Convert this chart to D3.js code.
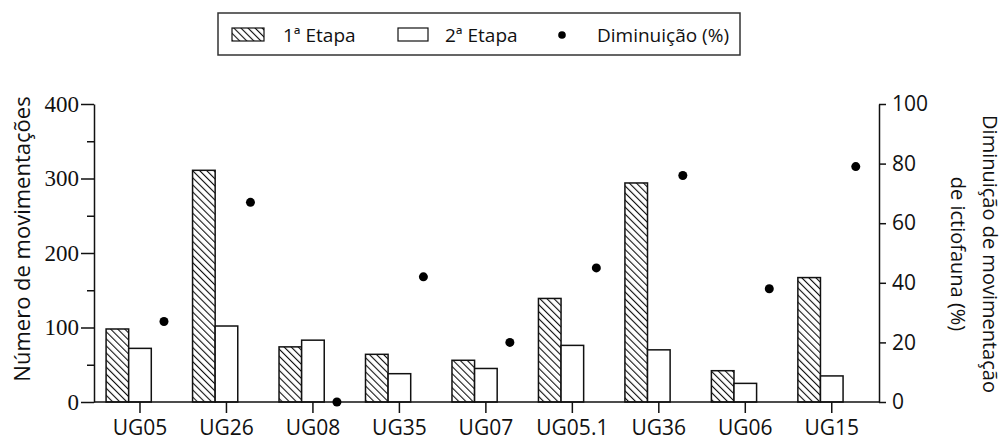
<!DOCTYPE html>
<html>
<head>
<meta charset="utf-8">
<script src="https://cdn.jsdelivr.net/npm/d3@7"></script>
<style>
  body { margin: 0; background: #fff; }
  svg { display: block; }
  .serif text { font-family: "Liberation Serif", "DejaVu Serif", serif; }
</style>
</head>
<body>
<div id="chart"></div>
<script>
// data
const categories = ["UG05", "UG26", "UG08", "UG35", "UG07", "UG05.1", "UG36", "UG06", "UG15"];
const etapa1 = [98, 311, 74, 64, 56, 139, 294, 42, 167];
const etapa2 = [72, 102, 83, 38, 45, 76, 70, 25, 35];
const diminuicao = [27, 67, 0, 42, 20, 45, 76, 38, 79];
const leftTicks = [0, 100, 200, 300, 400];
const rightTicks = [0, 20, 40, 60, 80, 100];

const W = 1003, H = 441;
const sans = "'Open Sans', 'Noto Sans', sans-serif";

const svg = d3.select("#chart")
  .append("svg")
  .attr("width", W)
  .attr("height", H);

// hatch for 1a etapa
svg.append("defs")
  .append("pattern")
  .attr("id", "hatch")
  .attr("patternUnits", "userSpaceOnUse")
  .attr("width", 5)
  .attr("height", 5)
  .attr("patternTransform", "rotate(-45)")
  .append("line")
  .attr("x1", 0).attr("y1", 0)
  .attr("x2", 0).attr("y2", 5)
  .attr("stroke", "#111")
  .attr("stroke-width", 2.2);

// scales
const x0 = 94, x1 = 879, yTop = 104, yBot = 402;
const x = d3.scaleBand()
  .domain(categories)
  .range([96.75, 875])
  .padding(0);
const yL = d3.scaleLinear().domain([0, 400]).range([yBot, yTop]);
const yR = d3.scaleLinear().domain([0, 100]).range([yBot, yTop]);

const slot = 22.6;
const cx = d => x(d) + x.bandwidth() / 2;

// bars
svg.append("g")
  .selectAll("rect")
  .data(categories)
  .join("rect")
  .attr("x", d => cx(d) - 1.5 * slot)
  .attr("y", (d, i) => yL(etapa1[i]))
  .attr("width", slot)
  .attr("height", (d, i) => yBot - yL(etapa1[i]))
  .attr("fill", "url(#hatch)")
  .attr("stroke", "#111")
  .attr("stroke-width", 1.5);

svg.append("g")
  .selectAll("rect")
  .data(categories)
  .join("rect")
  .attr("x", d => cx(d) - 0.5 * slot)
  .attr("y", (d, i) => yL(etapa2[i]))
  .attr("width", slot)
  .attr("height", (d, i) => yBot - yL(etapa2[i]))
  .attr("fill", "#fff")
  .attr("stroke", "#111")
  .attr("stroke-width", 1.5);

// left axis (serif numbers)
const leftAxis = svg.append("g")
  .attr("class", "serif")
  .attr("transform", `translate(${x0},0)`)
  .call(d3.axisLeft(yL).tickValues(leftTicks).tickSize(13).tickPadding(2).tickSizeOuter(0));
leftAxis.attr("font-family", null);
leftAxis.selectAll("text").style("font-size", "23px").attr("fill", "#111");
// minor ticks
svg.append("g")
  .attr("transform", `translate(${x0},0)`)
  .call(d3.axisLeft(yL).tickValues([50, 150, 250, 350]).tickSize(7).tickFormat("").tickSizeOuter(0))
  .select(".domain").remove();

// right axis
const rightAxis = svg.append("g")
  .attr("transform", `translate(${x1},0)`)
  .call(d3.axisRight(yR).tickValues(rightTicks).tickSize(7).tickPadding(6).tickSizeOuter(0));
rightAxis.selectAll("text").style("font-family", sans).style("font-size", "21px").attr("fill", "#111");

// x axis
const xAxis = svg.append("g")
  .attr("transform", `translate(0,${yBot})`)
  .call(d3.axisBottom(x).tickSize(11).tickPadding(7).tickSizeOuter(0));
xAxis.select(".domain").attr("d", `M${x0},0H${x1}`);
xAxis.selectAll("text").style("font-family", sans).style("font-size", "21px").attr("fill", "#111");

svg.selectAll(".domain, .tick line").attr("stroke", "#111").attr("stroke-width", 1.5);

// dots
svg.append("g")
  .selectAll("circle")
  .data(categories)
  .join("circle")
  .attr("cx", d => cx(d) + 24)
  .attr("cy", (d, i) => yR(diminuicao[i]))
  .attr("r", 4.5)
  .attr("fill", "#000");

// axis titles
svg.append("text")
  .attr("transform", `translate(30,${(yTop + yBot) / 2 - 14}) rotate(-90)`)
  .attr("text-anchor", "middle")
  .style("font-family", sans)
  .style("font-size", "22px")
  .attr("fill", "#111")
  .text("Número de movimentações");

const rTitle = svg.append("text")
  .attr("transform", `translate(0,${(yTop + yBot) / 2 + 1}) rotate(90)`)
  .attr("text-anchor", "middle")
  .style("font-family", sans)
  .style("font-size", "20px")
  .attr("fill", "#111");
rTitle.append("tspan").attr("x", 0).attr("y", -983).text("Diminuição de movimentação");
rTitle.append("tspan").attr("x", 0).attr("y", -951).text("de ictiofauna (%)");

// legend
const lg = svg.append("g");
lg.append("rect")
  .attr("x", 218).attr("y", 13).attr("width", 522).attr("height", 42)
  .attr("fill", "#fff").attr("stroke", "#333").attr("stroke-width", 1.5);
lg.append("rect")
  .attr("x", 232).attr("y", 28).attr("width", 32).attr("height", 13)
  .attr("fill", "url(#hatch)").attr("stroke", "#111").attr("stroke-width", 1.2);
lg.append("rect")
  .attr("x", 398).attr("y", 28).attr("width", 30).attr("height", 13)
  .attr("fill", "#fff").attr("stroke", "#111").attr("stroke-width", 1.2);
lg.append("circle").attr("cx", 562).attr("cy", 35).attr("r", 3.8).attr("fill", "#000");
const legendLabels = [["1ª Etapa", 283], ["2ª Etapa", 445], ["Diminuição (%)", 597]];
lg.selectAll("text.lab")
  .data(legendLabels)
  .join("text")
  .attr("class", "lab")
  .attr("x", d => d[1])
  .attr("y", 42)
  .style("font-family", sans)
  .style("font-size", "19px")
  .attr("fill", "#111")
  .text(d => d[0]);
</script>
</body>
</html>
